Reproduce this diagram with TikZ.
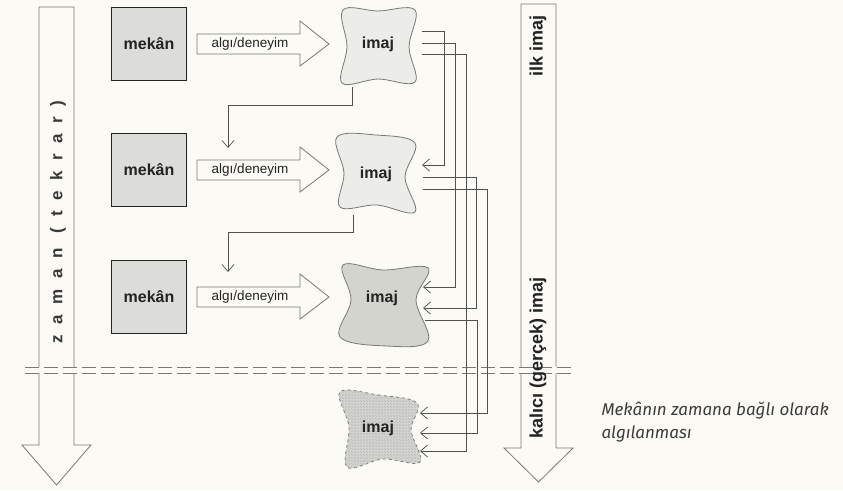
\documentclass[tikz,border=0pt]{standalone}
\usepackage{fontspec}
\setmainfont{Liberation Sans}
\newfontfamily\spacedfont[LetterSpace=62]{Liberation Sans}
\newfontfamily\capfont{Fira Sans}
\usetikzlibrary{arrows.meta,calc,patterns}

\definecolor{paper}{RGB}{251,250,245}
\definecolor{ink}{RGB}{35,35,35}
\definecolor{wire}{RGB}{80,80,80}
\definecolor{rim}{RGB}{120,120,120}
\definecolor{boxfill}{RGB}{220,220,217}
\definecolor{blobfill}{RGB}{236,236,232}
\definecolor{blobdark}{RGB}{212,212,207}
\definecolor{captext}{RGB}{60,60,60}

\tikzset{
  place/.style={draw=ink, line width=1.4pt, fill=boxfill, minimum width=75pt, minimum height=73pt,
    font=\bfseries\fontsize{16}{18}\selectfont, text=ink},
  blob/.style={draw=rim, line width=0.8pt, fill=blobfill},
  hollow/.style={draw=rim, line width=0.8pt, fill=paper},
  link/.style={draw=wire, line width=0.7pt, -{Straight Barb[length=7pt,width=12pt]}},
  imtext/.style={font=\bfseries\fontsize{16}{18}\selectfont, text=ink},
  bartext/.style={rotate=90, font=\bfseries\fontsize{18}{20}\selectfont, text=ink},
}

\begin{document}
\begin{tikzpicture}[x=1pt,y=-1pt]
\useasboundingbox[fill=paper] (0,0) rectangle (843,490);

% time arrows
\draw[hollow] (39,7) -- (74,7) -- (74,445) -- (91,445) -- (56.5,485) -- (22,445) -- (39,445) -- cycle;
\draw[hollow] (521,4) -- (556,4) -- (556,448) -- (573,448) -- (538.5,482) -- (504,448) -- (521,448) -- cycle;

% threshold
\fill[paper] (20,367) rectangle (578,373);
\draw[rim, line width=0.8pt, dash pattern=on 14pt off 5pt] (25,367) -- (572,367) (25,373) -- (572,373);

\node[rotate=90, font=\spacedfont\bfseries\fontsize{17}{18}\selectfont, text=ink!90] (zaman) at (58,222) {zaman (tekrar)};
\node[bartext] (ilk) at (538,46) {ilk imaj};
\node[bartext] (kalici) at (538,358) {kalıcı (gerçek) imaj};

% rows
\foreach \r/\y in {1/44,2/170,3/297}{
  \node[place] (m\r) at (149,\y) {mekân};
  \draw[hollow] (197,\y-10) -- (300,\y-10) -- (300,\y-23) -- (329,\y) -- (300,\y+22) -- (300,\y+10) -- (197,\y+10) -- cycle;
  \node[font=\fontsize{13.5}{15}\selectfont, text=ink] (a\r) at (250,\y) {algı/deneyim};
}

% images
\draw[blob, shift={(378,47)}] plot[smooth cycle, tension=0.6] coordinates
  {(-35,-37) (0,-36) (37,-37) (31,0) (37,35) (0,32) (-36,36) (-31,0)};
\node[imtext] (b1) at (378,44) {imaj};
\draw[blob, shift={(376,174)}] plot[smooth cycle, tension=0.6] coordinates
  {(-39,-37) (0,-39) (39,-31) (29,3) (39,38) (1,31) (-36,33) (-32,-1)};
\node[imtext] (b2) at (376,174) {imaj};
\draw[blob, fill=blobdark, shift={(382,301)}] plot[smooth cycle, tension=0.6] coordinates
  {(-39,-36) (1,-31) (46,-33) (34,-1) (46,40) (5,45) (-42,36) (-31,-1)};
\node[imtext] (b3) at (382,298) {imaj};
\draw[blob, dashed, fill=blobdark, postaction={pattern=north west lines, pattern color=gray!55}, shift={(378,428)}]
  plot[smooth cycle, tension=0.6] coordinates
  {(-38,-36) (0,-33) (39,-25) (33,2) (42,34) (5,31) (-31,39) (-29,-1)};
\node[imtext] (b4) at (378,428) {imaj};

% recall lines
\draw[link] ($(b1)+(-26,43)$) -- ++(0,18) -| ($(a2)+(-22,-22)$);
\draw[link] ($(b2)+(-23,41)$) -- ++(0,17) -| ($(a3)+(-22,-25)$);

\draw[link] ($(b1)+(44,-13)$) -- ++(22,0) |- ($(b2)+(46,-9)$);
\draw[link] ($(b1)+(44,-1)$) -- ++(33,0) |- ($(b3)+(41,-11)$);
\draw[link] ($(b1)+(44,10)$) -- ++(44,0) |- ($(b4)+(42,23)$);
\draw[link] ($(b2)+(47,3)$) -- ++(53,0) |- ($(b3)+(41,10)$);
\draw[link] ($(b2)+(47,15)$) -- ++(64,0) |- ($(b4)+(42,-15)$);
\draw[link] ($(b3)+(43,22)$) -- ++(52,0) |- ($(b4)+(42,5)$);

\node[anchor=base west, align=left, font=\capfont\itshape\fontsize{17}{23}\selectfont, text=captext] (cap) at (598,438)
  {Mekânın zamana bağlı olarak\\algılanması};
\end{tikzpicture}
\end{document}
